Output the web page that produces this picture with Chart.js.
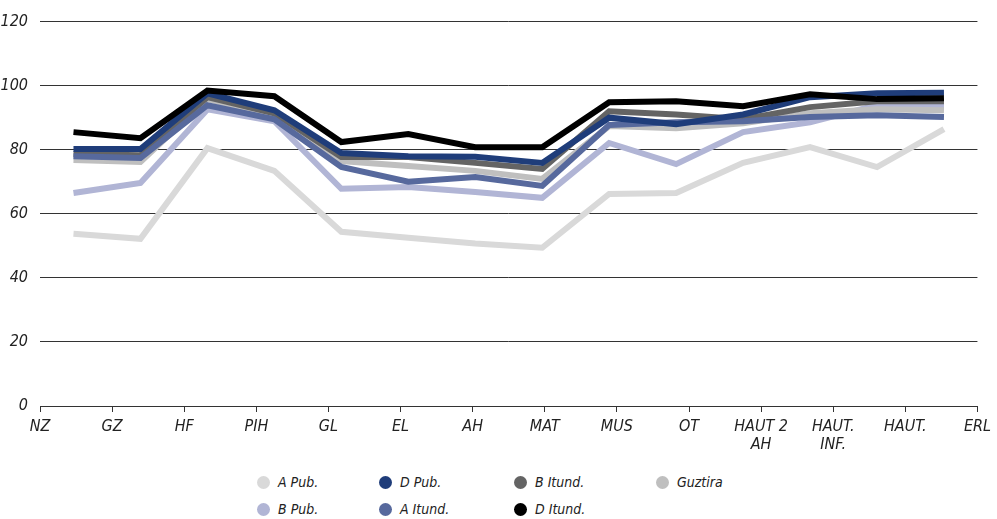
<!DOCTYPE html>
<html>
<head>
<meta charset="utf-8">
<script src="https://cdn.jsdelivr.net/npm/chart.js@4.4.1/dist/chart.umd.min.js"></script>
<style>
  html, body { margin: 0; padding: 0; background: #fff; }
  body { width: 997px; height: 519px; position: relative; overflow: hidden;
         font-family: "Liberation Sans Narrow", "DejaVu Sans Condensed", sans-serif; }
  #wrap { position: absolute; left: 0; top: 0; width: 997px; height: 460px; }
  #legend { position: absolute; left: 257px; top: 473px;
            display: grid; grid-template-columns: 122px 135px 142px 100px;
            row-gap: 9px; font-style: italic; font-size: 14px; color: #222; }
  #legend .item { display: flex; align-items: center; height: 18px; }
  #legend .dot { width: 13px; height: 13px; border-radius: 50%; margin-right: 8px; }
</style>
</head>
<body>
<div id="wrap"><canvas id="lineChart"></canvas></div>
<div id="legend"></div>
<script>
const categories = ["NZ", "GZ", "HF", "PIH", "GL", "EL", "AH", "MAT", "MUS", "OT",
  ["HAUT 2", "AH"], ["HAUT.", "INF."], "HAUT.", "ERL"];

const aPub    = [53.8, 52.2, 80.5, 73.4, 54.4, 52.5, 50.7, 49.4, 66.2, 66.5, 75.9, 80.8, 74.6, 86.4];
const bPub    = [66.5, 69.6, 92.6, 88.9, 67.8, 68.4, 66.8, 65.0, 82.1, 75.5, 85.5, 88.6, 93.9, 93.6];
const dPub    = [80.2, 80.2, 97.6, 92.3, 79.0, 78.0, 77.8, 75.9, 90.0, 88.0, 91.0, 96.4, 97.6, 97.8];
const aItund  = [78.0, 77.4, 93.9, 89.5, 74.6, 70.0, 71.5, 68.7, 87.7, 88.6, 88.9, 90.2, 90.8, 90.2];
const bItund  = [78.7, 78.3, 96.4, 91.4, 77.7, 77.7, 75.9, 74.0, 92.0, 91.0, 89.5, 93.3, 95.1, 95.1];
const dItund  = [85.5, 83.6, 98.5, 96.7, 82.4, 84.9, 80.8, 80.8, 94.8, 95.1, 93.6, 97.3, 95.8, 96.1];
const guztira = [76.8, 76.2, 95.8, 90.5, 76.5, 74.9, 73.4, 70.9, 87.4, 86.7, 88.3, 91.4, 92.6, 92.3];

const yTicks = [0, 20, 40, 60, 80, 100, 120];

const fontFamily = '"Liberation Sans Narrow", "DejaVu Sans Condensed", sans-serif';

// legend order (two rows of four columns)
const series = [
  { label: "A Pub.",    data: aPub,    color: "#d9d9d9", order: 7 },
  { label: "D Pub.",    data: dPub,    color: "#1f3d7a", order: 2 },
  { label: "B Itund.",  data: bItund,  color: "#646464", order: 4 },
  { label: "Guztira",   data: guztira, color: "#bfbfbf", order: 5 },
  { label: "B Pub.",    data: bPub,    color: "#b1b5d5", order: 6 },
  { label: "A Itund.",  data: aItund,  color: "#57699d", order: 3 },
  { label: "D Itund.",  data: dItund,  color: "#000000", order: 1 },
];

const ctx = document.getElementById("lineChart");

const lineChart = new Chart(ctx, {
  type: "line",
  data: {
    labels: categories.map((c) => (Array.isArray(c) ? c.join(" ") : c)),
    datasets: series.map((s) => ({
      label: s.label,
      data: s.data,
      borderColor: s.color,
      backgroundColor: s.color,
      borderWidth: 6,
      pointRadius: 0,
      tension: 0,
      order: s.order,
      xAxisID: "x",
    })),
  },
  options: {
    responsive: true,
    maintainAspectRatio: false,
    animation: false,
    layout: { padding: { top: 19, right: 12, left: 0, bottom: 0 } },
    plugins: { legend: { display: false }, tooltip: { enabled: false } },
    scales: {
      // data positions: points sit in the middle of each slot
      x: {
        type: "category",
        offset: true,
        display: false,
      },
      // visible labels run edge to edge
      x2: {
        type: "category",
        position: "bottom",
        labels: categories,
        offset: false,
        grid: { drawOnChartArea: false, drawTicks: true, tickLength: 6, color: "#333", lineWidth: 1 },
        border: { display: true, color: "#333", width: 1 },
        ticks: {
          autoSkip: false,
          maxRotation: 0,
          padding: 6,
          color: "#222",
          font: { family: fontFamily, size: 16, style: "italic", lineHeight: 1.1 },
        },
        afterFit: (scale) => { scale.height = 54; },
      },
      y: {
        min: 0,
        max: 120,
        afterBuildTicks: (scale) => { scale.ticks = yTicks.map((v) => ({ value: v })); },
        grid: { color: "#333", lineWidth: 1, drawTicks: false },
        border: { display: false },
        ticks: {
          padding: 12,
          color: "#222",
          font: { family: fontFamily, size: 16, style: "italic" },
        },
        afterFit: (scale) => { scale.width = 40; },
      },
    },
  },
});

// html legend in a fixed grid
const legendBox = document.getElementById("legend");
series.forEach((s) => {
  const item = document.createElement("div");
  item.className = "item";
  const dot = document.createElement("span");
  dot.className = "dot";
  dot.style.background = s.color;
  const text = document.createElement("span");
  text.textContent = s.label;
  item.appendChild(dot);
  item.appendChild(text);
  legendBox.appendChild(item);
});
</script>
</body>
</html>
